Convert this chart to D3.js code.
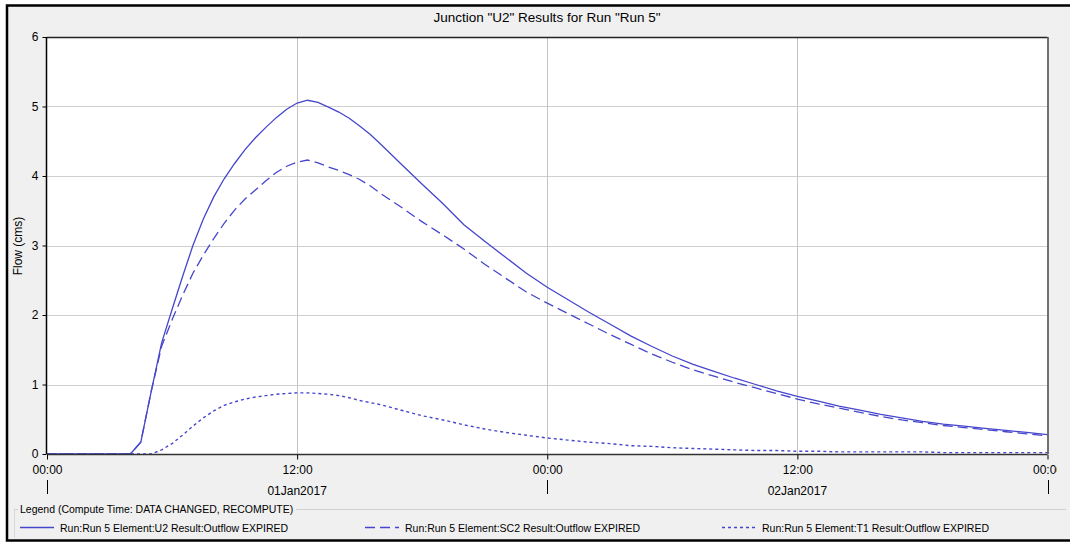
<!DOCTYPE html>
<html><head><meta charset="utf-8">
<script src="https://cdn.jsdelivr.net/npm/d3@7"></script>
<style>
html,body{margin:0;padding:0;background:#fff;}
svg{display:block;font-family:"Liberation Sans",Arial,sans-serif;}
</style></head>
<body>
<svg id="chart" width="1070" height="544"></svg>
<script>
const title = 'Junction "U2" Results for Run "Run 5"';
const yLabel = "Flow (cms)";
const legendTitle = "Legend (Compute Time: DATA CHANGED, RECOMPUTE)";
const seriesNames = [
  "Run:Run 5 Element:U2 Result:Outflow EXPIRED",
  "Run:Run 5 Element:SC2 Result:Outflow EXPIRED",
  "Run:Run 5 Element:T1 Result:Outflow EXPIRED"
];
// hours after 01Jan2017 00:00
const hours = [0,1,2,3,4,4.5,5,5.5,6,6.5,7,7.5,8,8.5,9,9.5,10,10.5,11,11.5,12,12.5,13,13.5,14,14.5,15,15.5,16,
  17,18,19,20,21,22,23,24,25,26,27,28,29,30,31,32,33,34,35,36,37,38,39,40,41,42,43,44,45,46,47,48];
const u2 = [0,0,0,0,0,0.17,0.9,1.6,2.08,2.55,3.0,3.38,3.7,3.96,4.18,4.38,4.55,4.7,4.84,4.96,5.05,5.09,5.06,4.99,4.92,4.83,4.72,4.6,4.46,
  4.17,3.88,3.6,3.3,3.06,2.83,2.6,2.4,2.22,2.04,1.87,1.7,1.55,1.41,1.29,1.19,1.09,1.0,0.91,0.83,0.76,0.69,0.63,0.57,0.52,0.47,0.43,0.4,0.37,0.34,0.31,0.28];
const sc2 = [0,0,0,0,0,0.17,0.9,1.55,1.93,2.28,2.6,2.86,3.1,3.32,3.51,3.67,3.8,3.93,4.05,4.14,4.2,4.23,4.19,4.13,4.08,4.02,3.95,3.86,3.75,
  3.55,3.34,3.15,2.95,2.73,2.53,2.33,2.17,2.02,1.87,1.72,1.58,1.44,1.32,1.21,1.12,1.03,0.95,0.87,0.79,0.72,0.66,0.6,0.54,0.49,0.45,0.41,0.38,0.35,0.32,0.29,0.26];
const t1 = [0,0,0,0,0,0,0,0.06,0.15,0.27,0.4,0.52,0.62,0.7,0.75,0.79,0.82,0.84,0.86,0.87,0.88,0.88,0.87,0.86,0.84,0.81,0.77,0.74,0.71,
  0.63,0.55,0.49,0.42,0.36,0.31,0.27,0.23,0.2,0.17,0.15,0.12,0.11,0.09,0.08,0.07,0.06,0.05,0.05,0.04,0.04,0.03,0.03,0.03,0.03,0.03,0.02,0.02,0.02,0.02,0.02,0.02];
const yTicks = [0,1,2,3,4,5,6];
const xTickHours = [0,12,24,36,48];
const xTickLabels = ["00:00","12:00","00:00","12:00","00:00"];
const dayLabels = [{h:12,label:"01Jan2017"},{h:36,label:"02Jan2017"}];
const dayMarks = [0,24,48];

const svg = d3.select("#chart");
const start = new Date(2017,0,1,0,0);
const toDate = h => new Date(start.getTime() + h*3600000);

const L = 47, R = 1047.5, T = 37, B = 454;
const x = d3.scaleTime().domain([toDate(0), toDate(48)]).range([L, R]);
const y = d3.scaleLinear().domain([0,6]).range([B, T]);

// frame
svg.append("rect").attr("x",7).attr("y",5.5).attr("width",1080).attr("height",535)
  .attr("fill","#f0f0f0").attr("stroke","#000").attr("stroke-width",2.5);

// title
svg.append("text").attr("x",547).attr("y",22).attr("text-anchor","middle")
  .attr("font-size",13.5).attr("fill","#000").text(title);

// plot bg
svg.append("rect").attr("x",L).attr("y",T).attr("width",R-L).attr("height",B-T).attr("fill","#fff");

// grid
svg.append("g").selectAll("line").data(yTicks.filter(d=>d>0&&d<6)).join("line")
  .attr("x1",L).attr("x2",R).attr("y1",d=>Math.round(y(d))+0.5).attr("y2",d=>Math.round(y(d))+0.5)
  .attr("stroke","#cfcfcf").attr("stroke-width",1.2);
svg.append("g").selectAll("line").data(xTickHours.filter(h=>h>0&&h<48)).join("line")
  .attr("x1",h=>Math.round(x(toDate(h)))+0.5).attr("x2",h=>Math.round(x(toDate(h)))+0.5)
  .attr("y1",T).attr("y2",B).attr("stroke","#c4c4c4").attr("stroke-width",1);

// series
const line = d3.line().x((d,i)=>x(toDate(hours[i]))).y(d=>y(d));
const col = "#4646cc";
svg.append("clipPath").attr("id","pc").append("rect").attr("x",L).attr("y",T).attr("width",R-L).attr("height",B-T+1);
const pg = svg.append("g").attr("clip-path","url(#pc)");
pg.append("path").datum(t1).attr("d",line).attr("fill","none").attr("stroke",col).attr("stroke-width",1.4).attr("stroke-dasharray","3,3");
pg.append("path").datum(sc2).attr("d",line).attr("fill","none").attr("stroke",col).attr("stroke-width",1.3).attr("stroke-dasharray","10,5");
pg.append("path").datum(u2).attr("d",line).attr("fill","none").attr("stroke",col).attr("stroke-width",1.3);

// plot border
svg.append("line").attr("x1",L).attr("x2",R).attr("y1",T+0.5).attr("y2",T+0.5).attr("stroke","#222").attr("stroke-width",1.5);
svg.append("line").attr("x1",R+0.5).attr("x2",R+0.5).attr("y1",T).attr("y2",B).attr("stroke","#444").attr("stroke-width",1.5);
svg.append("line").attr("x1",L-0.5).attr("x2",L-0.5).attr("y1",T).attr("y2",B).attr("stroke","#000").attr("stroke-width",1.5);
svg.append("line").attr("x1",L).attr("x2",R).attr("y1",B+0.5).attr("y2",B+0.5).attr("stroke","#333").attr("stroke-width",1.5);

// y axis
const ya = svg.append("g").attr("transform",`translate(${L-0.5},0)`)
  .call(d3.axisLeft(y).tickValues(yTicks).tickSize(4).tickPadding(4).tickFormat(d3.format("d")));
ya.select(".domain").remove();
ya.selectAll("text").attr("font-size",12).attr("fill","#000").attr("font-family","Liberation Sans, Arial, sans-serif");
ya.selectAll("line").attr("stroke","#000");

svg.append("text").attr("transform","translate(22,246) rotate(-90)").attr("text-anchor","middle")
  .attr("font-size",12).attr("fill","#000").text(yLabel);

// x axis
svg.append("clipPath").attr("id","xc").append("rect").attr("x",0).attr("y",0).attr("width",1057).attr("height",544);
const xa = svg.append("g").attr("transform",`translate(0,${B+0.5})`).attr("clip-path","url(#xc)")
  .call(d3.axisBottom(x).tickValues(xTickHours.map(toDate)).tickSize(5).tickPadding(6)
    .tickFormat((d,i)=>xTickLabels[i]));
xa.select(".domain").remove();
xa.selectAll("text").attr("font-size",12).attr("fill","#000").attr("font-family","Liberation Sans, Arial, sans-serif");
xa.selectAll("line").attr("stroke","#000");

svg.append("g").selectAll("text").data(dayLabels).join("text")
  .attr("x",d=>x(toDate(d.h))).attr("y",495).attr("text-anchor","middle").attr("font-size",12).attr("fill","#000")
  .text(d=>d.label);
svg.append("g").selectAll("line").data(dayMarks).join("line")
  .attr("x1",h=>Math.round(x(toDate(h)))+0.5).attr("x2",h=>Math.round(x(toDate(h)))+0.5)
  .attr("y1",480).attr("y2",494).attr("stroke","#000").attr("stroke-width",1);

// legend group box
const lt = svg.append("text").attr("x",20).attr("y",513).attr("font-size",10.5).attr("fill","#000").text(legendTitle);
const ltw = lt.node().getComputedTextLength();
svg.append("line").attr("x1",14).attr("x2",18).attr("y1",509.5).attr("y2",509.5).attr("stroke","#d0d0d0");
svg.append("line").attr("x1",20+ltw+3).attr("x2",1066).attr("y1",509.5).attr("y2",509.5).attr("stroke","#d0d0d0");
svg.append("line").attr("x1",14.5).attr("x2",14.5).attr("y1",509.5).attr("y2",538).attr("stroke","#d8d8d8");

const legX = [20,365,722];
const dashes = [null,"10,5","3,3"];
const lg = svg.append("g").selectAll("g").data(seriesNames).join("g")
  .attr("transform",(d,i)=>`translate(${legX[i]},527.5)`);
lg.append("line").attr("x1",0).attr("x2",34).attr("y1",0).attr("y2",0).attr("stroke",col).attr("stroke-width",1.3)
  .attr("stroke-dasharray",(d,i)=>dashes[i]);
lg.append("text").attr("x",40).attr("y",4).attr("font-size",10.5).attr("fill","#000").text(d=>d);
</script>
</body></html>
